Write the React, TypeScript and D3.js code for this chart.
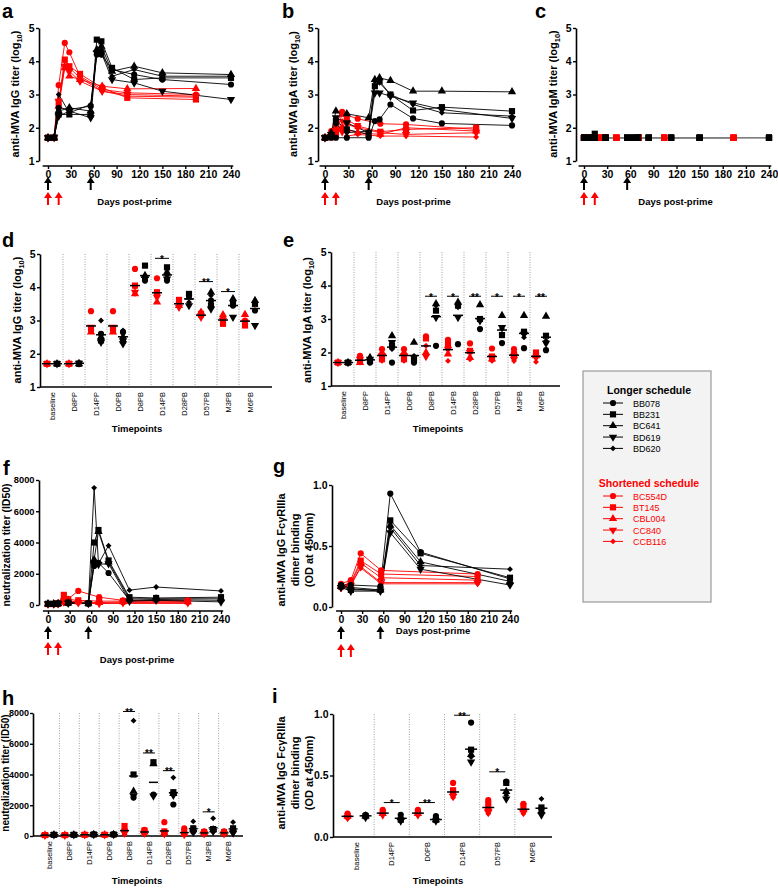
import React, { useEffect, useRef } from 'react';
import * as d3 from 'd3';

// subjects (symbol order: circle, square, triangle, inverted triangle, diamond)
const longerIds = ['BB078', 'BB231', 'BC641', 'BD619', 'BD620'];
const shortIds = ['BC554D', 'BT145', 'CBL004', 'CC840', 'CCB116'];

const timepoints = ['baseline', 'D8PP', 'D14PP', 'D0PB', 'D8PB', 'D14PB', 'D28PB', 'D57PB', 'M3PB', 'M6PB'];
const fcrTimepoints = ['baseline', 'D14PP', 'D0PB', 'D14PB', 'D57PB', 'M6PB'];

const longerDays = [0, 8, 14, 28, 56, 64, 70, 84, 113, 150, 240];
const longerVisits = ['baseline', 'D8PP', 'D14PP', 'D28PP', 'D0PB', 'D8PB', 'D14PB', 'D28PB', 'D57PB', 'M3PB', 'M6PB'];
// shortened schedule: boost at D14PP, so D0PB is the same sample
const shortDays = [0, 8, 14, 22, 28, 42, 71, 104, 194];
const shortVisits = ['baseline', 'D8PP', 'D14PP', 'D8PB', 'D14PB', 'D28PB', 'D57PB', 'M3PB', 'M6PB'];

const fcrLongerDays = [0, 14, 56, 70, 113, 240];
const fcrLongerVisits = ['baseline', 'D14PP', 'D0PB', 'D14PB', 'D57PB', 'M6PB'];
const fcrShortDays = [0, 14, 28, 57, 194];
const fcrShortVisits = ['baseline', 'D14PP', 'D14PB', 'D57PB', 'M6PB'];

const longerBoosts = [0, 56];
const shortBoosts = [0, 14];

const dayTicks = [0, 30, 60, 90, 120, 150, 180, 210, 240];
const logTicks = [1, 2, 3, 4, 5];
const neutTicks = [0, 2000, 4000, 6000, 8000];
const odTicks = [0, 0.5, 1];

// anti-MVA IgG (log10)
const igGLonger = [
  [1.7, 1.7, 2.6, 2.55, 2.65, 4.2, 4.2, 3.75, 3.6, 3.45, 3.3],
  [1.7, 1.7, 2.4, 2.4, 2.4, 4.65, 4.6, 3.8, 3.45, 3.5, 3.5],
  [1.7, 1.7, 2.5, 2.6, 2.5, 4.35, 4.45, 3.7, 3.85, 3.65, 3.6],
  [1.7, 1.72, 2.35, 2.5, 2.3, 4.25, 4.25, 3.45, 3.35, 3.1, 2.85],
  [1.7, 1.75, 3.0, 2.45, 2.7, 4.3, 4.35, 3.55, 3.75, 3.55, 3.55],
];
const igGShort = [
  [1.7, 1.7, 3.28, 4.55, 4.27, 3.55, 3.15, 3.05, 3.0],
  [1.7, 1.7, 2.75, 4.05, 3.85, 3.62, 3.2, 2.9, 2.85],
  [1.7, 1.7, 2.65, 3.8, 3.55, 3.45, 3.25, 3.17, 3.18],
  [1.7, 1.7, 2.8, 3.85, 3.7, 3.4, 3.1, 3.0, 2.95],
  [1.7, 1.7, 2.7, 4.0, 3.8, 3.5, 3.1, 2.95, 2.92],
];

// anti-MVA IgA (log10)
const igALonger = [
  [1.7, 1.7, 1.7, 1.7, 1.7, 2.2, 2.25, 2.7, 2.28, 2.13, 2.07],
  [1.7, 1.75, 2.2, 1.95, 1.8, 3.25, 3.4, 3.0, 2.52, 2.62, 2.5],
  [1.7, 1.85, 2.5, 2.42, 2.3, 3.45, 3.5, 3.42, 3.1, 3.1, 3.08],
  [1.7, 1.8, 2.3, 2.15, 1.85, 3.05, 3.05, 2.95, 2.75, 2.55, 2.28],
  [1.7, 1.8, 2.1, 1.85, 1.9, 3.4, 3.35, 3.0, 2.7, 2.45, 2.35],
];
const igAShort = [
  [1.7, 1.9, 2.1, 2.48, 2.38, 2.27, 2.12, 2.1, 1.95],
  [1.7, 1.75, 1.8, 2.42, 2.25, 2.05, 1.88, 1.95, 2.0],
  [1.7, 1.7, 2.0, 2.0, 1.95, 1.85, 1.8, 2.0, 1.9],
  [1.7, 1.8, 1.9, 1.88, 2.1, 2.0, 1.85, 1.8, 1.85],
  [1.7, 1.7, 1.75, 2.2, 1.75, 1.8, 1.75, 1.75, 1.72],
];

// anti-MVA IgM (log10)
const igMLonger = [
  [1.7, 1.7, 1.7, 1.7, 1.7, 1.7, 1.7, 1.7, 1.7, 1.7, 1.7],
  [1.7, 1.7, 1.82, 1.7, 1.7, 1.7, 1.7, 1.7, 1.7, 1.7, 1.7],
  [1.7, 1.7, 1.7, 1.7, 1.7, 1.7, 1.7, 1.7, 1.7, 1.7, 1.7],
  [1.7, 1.7, 1.7, 1.7, 1.7, 1.7, 1.7, 1.7, 1.7, 1.7, 1.7],
  [1.7, 1.7, 1.7, 1.7, 1.7, 1.7, 1.7, 1.7, 1.7, 1.7, 1.7],
];
const igMShort = [
  [1.7, 1.7, 1.7, 1.7, 1.7, 1.7, 1.7, 1.7, 1.7],
  [1.7, 1.7, 1.7, 1.7, 1.7, 1.7, 1.7, 1.7, 1.7],
  [1.7, 1.7, 1.7, 1.7, 1.7, 1.7, 1.7, 1.7, 1.7],
  [1.7, 1.7, 1.7, 1.7, 1.7, 1.7, 1.7, 1.7, 1.7],
  [1.7, 1.7, 1.7, 1.7, 1.7, 1.7, 1.7, 1.7, 1.7],
];

// neutralization titer (ID50)
const neutLonger = [
  [80, 80, 100, 120, 100, 2500, 2700, 2050, 300, 350, 300],
  [80, 80, 100, 150, 100, 4000, 4800, 2850, 500, 450, 500],
  [80, 80, 100, 120, 100, 2900, 4700, 2750, 400, 400, 400],
  [80, 80, 100, 120, 100, 2600, 2600, 2650, 250, 300, 200],
  [80, 80, 100, 120, 100, 7500, 2650, 3800, 950, 1150, 900],
];
const neutShort = [
  [60, 60, 80, 300, 400, 900, 500, 300, 300],
  [60, 60, 80, 650, 350, 300, 250, 250, 250],
  [60, 60, 80, 500, 250, 200, 150, 200, 200],
  [60, 60, 80, 200, 200, 150, 100, 150, 150],
  [60, 60, 80, 100, 100, 100, 100, 100, 100],
];

// FcγRIIIa dimer binding (OD 450nm)
const fcrLonger = [
  [0.18, 0.18, 0.17, 0.93, 0.45, 0.23],
  [0.17, 0.14, 0.14, 0.71, 0.44, 0.24],
  [0.17, 0.16, 0.14, 0.67, 0.37, 0.21],
  [0.16, 0.13, 0.13, 0.61, 0.31, 0.18],
  [0.18, 0.15, 0.13, 0.65, 0.34, 0.31],
];
const fcrShort = [
  [0.19, 0.22, 0.44, 0.3, 0.27],
  [0.17, 0.2, 0.38, 0.27, 0.25],
  [0.17, 0.19, 0.36, 0.24, 0.22],
  [0.16, 0.18, 0.33, 0.2, 0.2],
  [0.15, 0.18, 0.32, 0.19, 0.19],
];

// significance brackets: [timepoint, level, label]
const igGSig = [['D14PB', 4.87, '*'], ['D57PB', 4.17, '**'], ['M3PB', 3.87, '*']];
const igASig = [['D8PB', 3.68, '*'], ['D14PB', 3.68, '*'], ['D28PB', 3.68, '**'], ['D57PB', 3.68, '*'], ['M3PB', 3.68, '*'], ['M6PB', 3.68, '**']];
const neutSig = [['D8PB', 8100, '**'], ['D14PB', 5400, '**'], ['D28PB', 4250, '**'], ['M3PB', 1570, '*']];
const fcrSig = [['D14PP', 0.28, '*'], ['D0PB', 0.28, '**'], ['D14PB', 0.99, '**'], ['D57PB', 0.53, '*']];

const RED = '#ff0000';
const FONT = '"Liberation Sans", Arial, Helvetica, sans-serif';

const symTypes = [d3.symbolCircle, d3.symbolSquare, d3.symbolTriangle, d3.symbolTriangle, (d3 as any).symbolDiamond2 || d3.symbolDiamond];
const symSizes = [30, 38, 30, 30, 22];

function marker(g: any, i: number, x: number, y: number, color: string) {
  g.append('path')
    .attr('d', d3.symbol().type(symTypes[i]).size(symSizes[i])())
    .attr('transform', `translate(${x},${y})${i === 3 ? ' rotate(180)' : ''}`)
    .attr('fill', color);
}

function visitValue(row: number[], visits: string[], tp: string) {
  const key = tp === 'D0PB' && !visits.includes('D0PB') ? 'D14PP' : tp;
  return row[visits.indexOf(key)];
}

function styleTicks(ax: any, size = 10.5) {
  ax.selectAll('.tick line').attr('stroke', '#000').attr('stroke-width', 1.4);
  ax.selectAll('.tick text')
    .attr('font-size', size)
    .attr('font-weight', 'bold')
    .attr('font-family', FONT)
    .attr('fill', '#000');
}

function yAxis(g: any, y: any, x: number, ticks: number[], fmt: any, size = 10.5, pad = 1.5) {
  const ax = g.append('g')
    .attr('transform', `translate(${x},0)`)
    .call(d3.axisLeft(y).tickValues(ticks).tickFormat(fmt).tickSize(3).tickSizeOuter(0).tickPadding(pad));
  ax.select('.domain').attr('stroke', '#000').attr('stroke-width', 1.6);
  styleTicks(ax, size);
}

function arrow(g: any, x: number, top: number, color: string) {
  const p = d3.path();
  p.moveTo(x, top);
  p.lineTo(x + 4, top + 6);
  p.lineTo(x + 1, top + 6);
  p.lineTo(x + 1, top + 13);
  p.lineTo(x - 1, top + 13);
  p.lineTo(x - 1, top + 6);
  p.lineTo(x - 4, top + 6);
  p.closePath();
  g.append('path').attr('d', p.toString()).attr('fill', color);
}

function label(g: any, x: number, y: number, txt: string, size: number, opts: any = {}) {
  return g.append('text')
    .attr('x', x).attr('y', y)
    .attr('text-anchor', opts.anchor || 'middle')
    .attr('font-size', size)
    .attr('font-weight', opts.weight || 'bold')
    .attr('fill', opts.color || '#000')
    .text(txt);
}

function yTitleLog(g: any, cx: number, cy: number, txt: string) {
  const t = g.append('text')
    .attr('transform', `translate(${cx},${cy}) rotate(-90)`)
    .attr('y', 4)
    .attr('text-anchor', 'middle')
    .attr('font-size', 11)
    .attr('font-weight', 'bold');
  t.append('tspan').text(txt);
  t.append('tspan').attr('font-size', 7.5).attr('dy', 2.5).text('10');
  t.append('tspan').attr('dy', -2.5).text(')');
}

function yTitleLines(g: any, cx: number, cy: number, lines: string[], gap: number, size = 11) {
  const t = g.append('g').attr('transform', `translate(${cx},${cy}) rotate(-90)`);
  lines.forEach((ln, i) => {
    t.append('text')
      .attr('y', size * 0.36 + (i - (lines.length - 1) / 2) * gap)
      .attr('text-anchor', 'middle')
      .attr('font-size', size)
      .attr('font-weight', 'bold')
      .text(ln);
  });
}

function linePanel(root: any, c: any) {
  const g = root.append('g');
  const x = d3.scaleLinear().domain([0, 240]).range(c.xRange);
  const y = d3.scaleLinear().domain(c.yDomain).range([c.yRange[1], c.yRange[0]]);
  yAxis(g, y, c.yAxisX, c.yTicks, c.fmt, c.tickSize || 10.5);
  const xa = g.append('g')
    .attr('transform', `translate(0,${c.axisY})`)
    .call(d3.axisBottom(x).tickValues(dayTicks).tickSize(3).tickSizeOuter(0).tickPadding(1.5));
  xa.select('.domain').attr('d', `M${x(-7)},0H${x(243)}`).attr('stroke', '#000').attr('stroke-width', 1.6);
  styleTicks(xa);

  const line = d3.line<number[]>().x((d) => x(d[0])).y((d) => y(d[1]));
  const groups = [
    { rows: c.short, days: c.sDays, color: RED },
    { rows: c.longer, days: c.lDays, color: '#000' },
  ];
  groups.forEach((gr) => {
    gr.rows.forEach((row: number[]) => {
      const pts = row.map((v, k) => [gr.days[k], v]);
      g.append('path')
        .attr('d', line(pts))
        .attr('fill', 'none')
        .attr('stroke', c.grayLines ? '#808080' : gr.color)
        .attr('stroke-width', 0.9);
    });
  });
  groups.forEach((gr) => {
    gr.rows.forEach((row: number[], i: number) => {
      row.forEach((v, k) => marker(g, c.allSquares ? 1 : i, x(gr.days[k]), y(v), gr.color));
    });
  });
  longerBoosts.forEach((d) => arrow(g, x(d), c.arrowTop[0], '#000'));
  shortBoosts.forEach((d) => arrow(g, x(d), c.arrowTop[1], RED));
}

function dotPanel(root: any, c: any) {
  const g = root.append('g');
  const xb = d3.scaleBand().domain(c.cats).range(c.bandRange);
  const y = d3.scaleLinear().domain(c.yDomain).range([c.yRange[1], c.yRange[0]]);
  const bottom = c.yRange[1];
  const center = (tp: string) => (xb(tp) as number) + xb.bandwidth() / 2;

  c.cats.slice(1).forEach((tp: string) => {
    g.append('line')
      .attr('x1', xb(tp)).attr('x2', xb(tp))
      .attr('y1', c.yRange[0]).attr('y2', bottom)
      .attr('stroke', '#8a8a8a')
      .attr('stroke-width', 0.8)
      .attr('stroke-dasharray', '1,1.5');
  });
  yAxis(g, y, c.yAxisX, c.yTicks, c.fmt, c.tickSize || 10.5, c.tickPad || 1.5);
  g.append('line')
    .attr('x1', c.yAxisX).attr('x2', c.axisEnd)
    .attr('y1', bottom).attr('y2', bottom)
    .attr('stroke', '#000').attr('stroke-width', 1.6);

  c.cats.forEach((tp: string) => {
    g.append('text')
      .attr('transform', `translate(${center(tp) + 2.6},${bottom + 5}) rotate(-90)`)
      .attr('text-anchor', 'end')
      .attr('font-size', 7.5)
      .text(tp);
  });

  c.cats.forEach((tp: string) => {
    const cx = center(tp);
    const sets = [
      { vals: c.short.map((r: number[]) => visitValue(r, c.sVisits, tp)), x: cx - c.offset, color: RED },
      { vals: c.longer.map((r: number[]) => visitValue(r, c.lVisits, tp)), x: cx + c.offset, color: '#000' },
    ];
    sets.forEach((s) => {
      s.vals.forEach((v: number, i: number) => marker(g, i, s.x, y(v), s.color));
      const m = d3.mean(s.vals as number[]) as number;
      g.append('line')
        .attr('x1', s.x - c.meanW / 2).attr('x2', s.x + c.meanW / 2)
        .attr('y1', y(m)).attr('y2', y(m))
        .attr('stroke', '#000').attr('stroke-width', 1.5);
    });
  });

  c.sig.forEach(([tp, level, txt]: any) => {
    const cx = center(tp);
    g.append('line')
      .attr('x1', cx - c.sigHalf).attr('x2', cx + c.sigHalf)
      .attr('y1', y(level)).attr('y2', y(level))
      .attr('stroke', '#000').attr('stroke-width', 1);
    label(g, cx, y(level) + 4.5, txt, 10);
  });
}

function legend(root: any) {
  const g = root.append('g');
  g.append('rect')
    .attr('x', 583).attr('y', 371).attr('width', 128).attr('height', 231)
    .attr('fill', '#f3f3f3').attr('stroke', '#9a9a9a').attr('stroke-width', 1.2);
  const sections = [
    { title: 'Longer schedule', ids: longerIds, color: '#000', top: 394 },
    { title: 'Shortened schedule', ids: shortIds, color: RED, top: 487 },
  ];
  sections.forEach((s) => {
    label(g, 649, s.top, s.title, 10.5, { color: s.color });
    s.ids.forEach((id, i) => {
      const yy = s.top + 9 + i * 11.35;
      g.append('line').attr('x1', 603).attr('x2', 623).attr('y1', yy).attr('y2', yy)
        .attr('stroke', s.color).attr('stroke-width', 1);
      marker(g, i, 613, yy, s.color);
      label(g, 633, yy + 3.5, id, 9, { anchor: 'start', weight: 'normal', color: s.color });
    });
  });
}

export default function App() {
  const ref = useRef<SVGSVGElement>(null);

  useEffect(() => {
    const svg = d3.select(ref.current);
    svg.selectAll('*').remove();
    const root = svg.append('g').attr('font-family', FONT);
    const fmtInt = d3.format('d');
    const fmtOd = d3.format('.1f');

    // panel letters
    [['a', 2, 18], ['b', 282, 18], ['c', 535, 18], ['d', 2, 247], ['e', 283, 247],
      ['f', 3, 475], ['g', 273, 473], ['h', 2, 705], ['i', 272, 703]].forEach(([t, x, y]: any) =>
      label(root, x, y, t, 20, { anchor: 'start' }));

    // a, b, c: antibody kinetics
    const kin = [
      { yAxisX: 39, xRange: [48, 231], longer: igGLonger, short: igGShort, title: 'anti-MVA IgG titer (log', tx: 15 },
      { yAxisX: 318, xRange: [325, 512], longer: igALonger, short: igAShort, title: 'anti-MVA IgA titer (log', tx: 293 },
      { yAxisX: 576, xRange: [584, 769], longer: igMLonger, short: igMShort, title: 'anti-MVA IgM titer (log', tx: 553, gray: true },
    ];
    kin.forEach((k) => {
      linePanel(root, {
        yAxisX: k.yAxisX, xRange: k.xRange, axisY: 166, yRange: [28, 161], yDomain: [1, 5],
        yTicks: logTicks, fmt: fmtInt, longer: k.longer, short: k.short,
        lDays: longerDays, sDays: shortDays, arrowTop: [177, 192],
        allSquares: k.gray, grayLines: k.gray,
      });
      yTitleLog(root, k.tx, 94, k.title);
      label(root, (k.xRange[0] + k.xRange[1]) / 2 + (k.gray ? -1 : -5), 205, 'Days post-prime', 9.5);
    });

    // d, e: titers by timepoint
    dotPanel(root, {
      yAxisX: 40, bandRange: [41, 261], axisEnd: 272, yRange: [254, 387], yDomain: [1, 5],
      yTicks: logTicks, fmt: fmtInt, cats: timepoints, offset: 5, meanW: 10, sigHalf: 7,
      longer: igGLonger, short: igGShort, lVisits: longerVisits, sVisits: shortVisits, sig: igGSig,
    });
    yTitleLog(root, 17, 320, 'anti-MVA IgG titer (log');
    label(root, 137, 432, 'Timepoints', 9.5);

    dotPanel(root, {
      yAxisX: 331, bandRange: [332, 552], axisEnd: 560, yRange: [252, 386], yDomain: [1, 5],
      yTicks: logTicks, fmt: fmtInt, cats: timepoints, offset: 5, meanW: 10, sigHalf: 6,
      longer: igALonger, short: igAShort, lVisits: longerVisits, sVisits: shortVisits, sig: igASig,
    });
    yTitleLog(root, 307, 320, 'anti-MVA IgA titer (log');
    label(root, 438, 432, 'Timepoints', 9.5);

    // f, g: neutralization and FcγRIIIa kinetics
    linePanel(root, {
      yAxisX: 39, xRange: [48, 221], axisY: 611, yRange: [480, 605], yDomain: [0, 8000],
      yTicks: neutTicks, fmt: fmtInt, tickSize: 9.3, longer: neutLonger, short: neutShort,
      lDays: longerDays, sDays: shortDays, arrowTop: [626, 642],
    });
    yTitleLines(root, 6, 545, ['neutralization titer (ID50)'], 14, 10.5);
    label(root, 137, 663, 'Days post-prime', 9.5);

    linePanel(root, {
      yAxisX: 332, xRange: [341, 510], axisY: 611, yRange: [485, 607], yDomain: [0, 1],
      yTicks: odTicks, fmt: fmtOd, longer: fcrLonger, short: fcrShort,
      lDays: fcrLongerDays, sDays: fcrShortDays, arrowTop: [626, 644],
    });
    yTitleLines(root, 295, 550, ['anti-MVA IgG FcγRIIIa', 'dimer binding', '(OD at 450nm)'], 14);
    label(root, 433, 634, 'Days post-prime', 9.5);

    // h, i: by timepoint
    dotPanel(root, {
      yAxisX: 33, bandRange: [39.5, 238.5], axisEnd: 243, yRange: [713, 836], yDomain: [0, 8000],
      yTicks: neutTicks, fmt: fmtInt, tickSize: 9, tickPad: 1, cats: timepoints, offset: 4.5, meanW: 9, sigHalf: 6,
      longer: neutLonger, short: neutShort, lVisits: longerVisits, sVisits: shortVisits, sig: neutSig,
    });
    yTitleLines(root, 5, 773, ['neutralization titer (ID50)'], 14, 10);
    label(root, 137, 884, 'Timepoints', 9.5);

    dotPanel(root, {
      yAxisX: 333, bandRange: [339, 550], axisEnd: 552, yRange: [714, 837], yDomain: [0, 1],
      yTicks: odTicks, fmt: fmtOd, cats: fcrTimepoints, offset: 9, meanW: 12, sigHalf: 8,
      longer: fcrLonger, short: fcrShort, lVisits: fcrLongerVisits, sVisits: fcrShortVisits, sig: fcrSig,
    });
    yTitleLines(root, 295, 773, ['anti-MVA IgG FcγRIIIa', 'dimer binding', '(OD at 450nm)'], 14);
    label(root, 438, 884, 'Timepoints', 9.5);

    legend(root);
  }, []);

  return (
    <svg
      ref={ref}
      width={778}
      height={888}
      style={{ position: 'absolute', left: 0, top: 0, background: '#fff' }}
    />
  );
}
